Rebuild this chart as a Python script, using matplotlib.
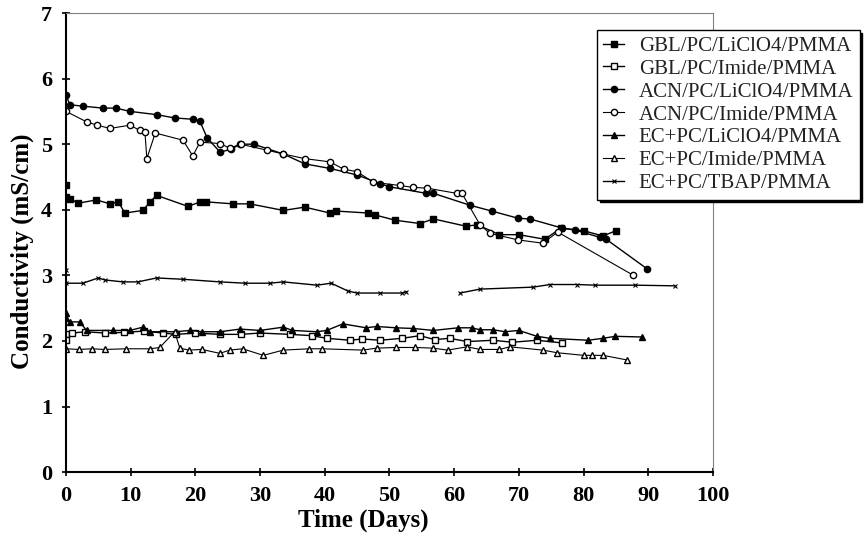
import numpy as np
import matplotlib.pyplot as plt

plt.rcParams['font.family'] = ['Liberation Serif', 'DejaVu Serif']

# data: days, conductivity (mS/cm)
gbl_li_days = [0, 0, 0.6, 1.9, 4.7, 6.8, 8.1, 9.1, 11.9, 13, 14, 18.9, 20.7, 21.7, 25.8, 28.4, 33.6,
               36.9, 40.8, 41.8, 46.7, 47.8, 50.9, 54.7, 56.8, 61.8, 63.6, 67, 70, 74, 76.5, 80, 83, 85]
gbl_li_vals = [4.38, 4.2, 4.17, 4.1, 4.15, 4.09, 4.12, 3.95, 3.99, 4.12, 4.22, 4.05, 4.12, 4.12, 4.09, 4.09, 3.99,
               4.04, 3.95, 3.98, 3.95, 3.92, 3.84, 3.79, 3.86, 3.75, 3.77, 3.62, 3.62, 3.55, 3.72, 3.68, 3.6, 3.68]

gbl_im_days = [0, 0, 1, 3, 6, 9, 12, 15, 17, 20, 23.8, 27, 30, 34.6, 38, 40.3, 43.9, 45.8, 48.5, 52,
               54.7, 57, 59.3, 62, 66, 69, 72.8, 76.6]
gbl_im_vals = [2.1, 2.02, 2.12, 2.14, 2.12, 2.13, 2.15, 2.12, 2.1, 2.12, 2.1, 2.1, 2.12, 2.1, 2.08, 2.04, 2.01,
               2.03, 2.01, 2.04, 2.08, 2.02, 2.04, 1.99, 2.01, 1.98, 2.01, 1.97]

acn_li_days = [0, 0.6, 2.6, 5.7, 7.7, 9.9, 14, 16.8, 19.6, 20.7, 21.8, 23.8, 25.5, 26.9, 29, 33.6, 36.9,
               40.8, 45, 48.5, 50, 55.7, 56.8, 62.4, 65.8, 69.9, 71.7, 76.7, 78.7, 82.5, 83.5, 89.8]
acn_li_vals = [5.75, 5.6, 5.58, 5.55, 5.55, 5.5, 5.45, 5.4, 5.38, 5.35, 5.1, 4.88, 4.92, 5.0, 5.0, 4.85, 4.7,
               4.63, 4.53, 4.4, 4.35, 4.25, 4.25, 4.07, 3.98, 3.87, 3.86, 3.72, 3.69, 3.58, 3.55, 3.1]

acn_im_days = [0, 3.2, 4.8, 6.8, 9.9, 11.4, 12.2, 12.5, 13.8, 18.1, 19.6, 20.7, 23.8, 25.3, 27, 31, 33.6,
               36.9, 40.8, 42.9, 45, 47.5, 51.6, 53.7, 55.8, 60.4, 61.2, 64, 65.5, 69.9, 73.7, 76, 87.7]
acn_im_vals = [5.5, 5.34, 5.29, 5.24, 5.29, 5.21, 5.19, 4.78, 5.17, 5.06, 4.82, 5.03, 5.01, 4.94, 5.0, 4.91, 4.85,
               4.78, 4.73, 4.62, 4.58, 4.42, 4.37, 4.34, 4.33, 4.25, 4.25, 3.77, 3.64, 3.54, 3.49, 3.66, 3.0]

ec_li_days = [0, 0, 0.6, 2.1, 3.2, 7.3, 9.9, 11.9, 13, 17, 19.2, 21, 23.8, 26.9, 30, 33.6, 35, 38.8, 40.3,
              42.8, 46.4, 48, 51, 53.6, 56.8, 60.6, 62.7, 64, 66, 67.9, 70, 72.8, 74.8, 80.7, 83, 84.9, 89]
ec_li_vals = [2.42, 2.35, 2.29, 2.29, 2.16, 2.16, 2.16, 2.21, 2.14, 2.14, 2.16, 2.14, 2.14, 2.18, 2.16, 2.21,
              2.16, 2.14, 2.16, 2.26, 2.2, 2.22, 2.2, 2.19, 2.16, 2.2, 2.2, 2.17, 2.17, 2.14, 2.16, 2.07, 2.04,
              2.01, 2.04, 2.07, 2.06]

ec_im_days = [0, 2, 4, 6, 9.3, 13, 14.5, 16.8, 17.6, 19, 21, 23.8, 25.3, 27.3, 30.5, 33.6, 37.6, 39.6, 45.9,
              48, 51, 54, 56.7, 59, 62, 64, 67, 68.6, 73.7, 75.9, 80, 81.3, 83, 86.7]
ec_im_vals = [1.88, 1.87, 1.88, 1.87, 1.88, 1.88, 1.9, 2.14, 1.89, 1.86, 1.87, 1.81, 1.86, 1.88, 1.78, 1.86,
              1.88, 1.88, 1.86, 1.89, 1.9, 1.9, 1.89, 1.86, 1.91, 1.87, 1.87, 1.91, 1.86, 1.82, 1.78, 1.78,
              1.78, 1.71]

# gap between ~53 and ~61 days (nan breaks the line)
ec_tbap_days = [0, 0, 2.6, 5, 6, 8.8, 11.1, 14, 18.1, 23.8, 27.7, 31.5, 33.6, 38.8, 41, 43.6, 45, 48.5, 52,
                52.6, 56, 60.9, 64, 72.2, 74.8, 79, 81.8, 88, 94.1]
ec_tbap_vals = [3.08, 2.88, 2.88, 2.96, 2.93, 2.9, 2.9, 2.96, 2.94, 2.9, 2.88, 2.88, 2.9, 2.85, 2.88, 2.76,
                2.73, 2.73, 2.73, 2.75, np.nan, 2.73, 2.79, 2.82, 2.86, 2.86, 2.85, 2.85, 2.84]

labels = ['GBL/PC/LiClO4/PMMA', 'GBL/PC/Imide/PMMA', 'ACN/PC/LiClO4/PMMA', 'ACN/PC/Imide/PMMA',
          'EC+PC/LiClO4/PMMA', 'EC+PC/Imide/PMMA', 'EC+PC/TBAP/PMMA']

fig = plt.figure(figsize=(8.68, 5.42), dpi=100)
ax = fig.add_axes([0.076, 0.129, 0.7454, 0.847])

ax.plot(gbl_li_days, gbl_li_vals, color='black', lw=1, marker='s', ms=4.5, mfc='black', label=labels[0])
ax.plot(gbl_im_days, gbl_im_vals, color='black', lw=1, marker='s', ms=4.5, mfc='white', label=labels[1])
ax.plot(acn_li_days, acn_li_vals, color='black', lw=1, marker='o', ms=4.5, mfc='black', label=labels[2])
ax.plot(acn_im_days, acn_im_vals, color='black', lw=0.8, marker='o', ms=4.5, mfc='white', label=labels[3])
ax.plot(ec_li_days, ec_li_vals, color='black', lw=1, marker='^', ms=5, mfc='black', label=labels[4])
ax.plot(ec_im_days, ec_im_vals, color='black', lw=0.8, marker='^', ms=5, mfc='white', label=labels[5])
ax.plot(ec_tbap_days, ec_tbap_vals, color='black', lw=1, marker='x', ms=3.5, mew=0.8, label=labels[6])

ax.set_xlim(0, 100)
ax.set_ylim(0, 7)
ax.set_xticks(np.arange(0, 101, 10))
ax.set_yticks(np.arange(0, 8, 1))
ax.tick_params(direction='inout', length=6, width=1.2, labelsize=16, pad=7)
for lab in ax.get_xticklabels() + ax.get_yticklabels():
    lab.set_fontweight('bold')

ax.spines['left'].set_linewidth(1.5)
ax.spines['bottom'].set_linewidth(1.5)
ax.spines['top'].set_color('gray')
ax.spines['right'].set_color('gray')

ax.set_xlabel('Time (Days)', fontsize=18, fontweight='bold')
ax.set_ylabel('Conductivity (mS/cm)', fontsize=18, fontweight='bold')
ax.xaxis.set_label_coords(0.46, -0.08)
ax.yaxis.set_label_coords(-0.05, 0.48)

leg = fig.legend(loc='upper left', bbox_to_anchor=(597 / 868, 1 - 30 / 542), fontsize=15,
                 frameon=True, fancybox=False, edgecolor='black', shadow={'color': 'black', 'alpha': 1},
                 handlelength=1.0, handletextpad=0.7, labelspacing=0.16, borderpad=0.3, borderaxespad=0)
leg.get_frame().set_linewidth(1)
for t in leg.get_texts():
    t.set_color('#222222')

plt.savefig('out.png', dpi=100, facecolor='white')
